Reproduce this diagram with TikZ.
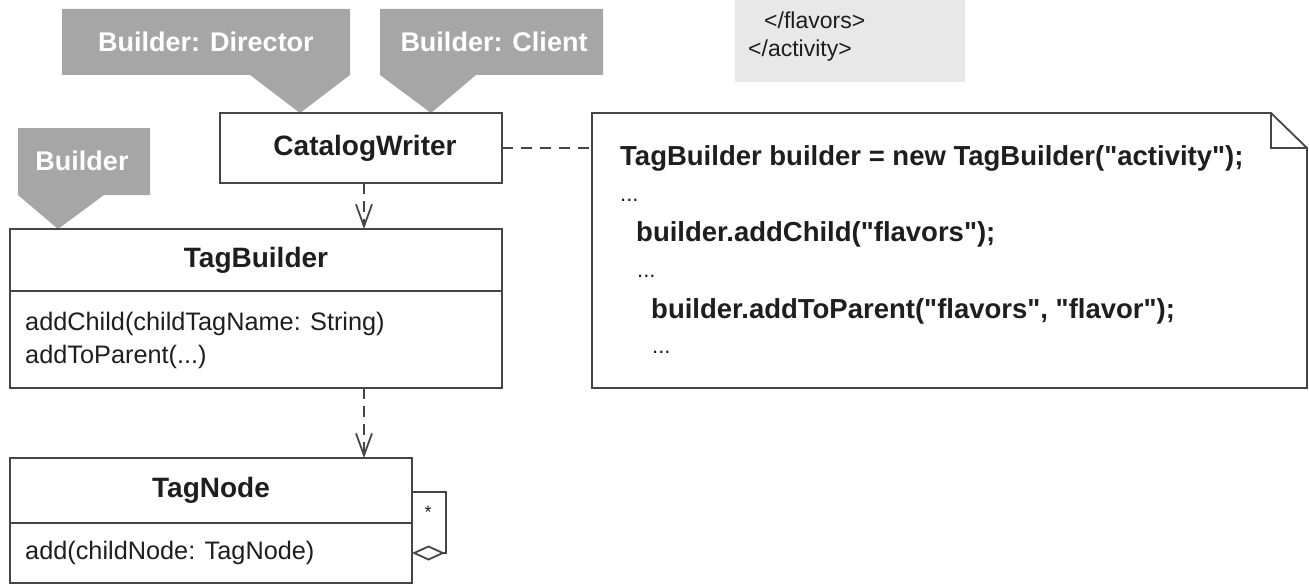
\documentclass[tikz,border=0pt]{standalone}
\usepackage{fontspec}
\setmainfont{Liberation Sans}[Ligatures=TeXOff]
\usetikzlibrary{arrows.meta}
\definecolor{bannerc}{HTML}{A6A6A6}
\definecolor{linec}{HTML}{454545}
\definecolor{xmlbg}{HTML}{E8E8E8}
\definecolor{txtc}{HTML}{1E1E1E}
\tikzset{
  bannertext/.style={text=white, font=\fontsize{27}{32}\selectfont\bfseries, inner sep=0pt},
  umlbox/.style={draw=linec, line width=1.8pt, fill=white, anchor=north west, inner sep=0pt, outer sep=0pt},
  titletext/.style={text=txtc, font=\fontsize{28}{33}\selectfont\bfseries, inner sep=0pt},
  methtext/.style={text=txtc, font=\fontsize{25.3}{30}\selectfont, inner sep=0pt, anchor=west},
  notetext/.style={text=txtc, font=\fontsize{27.5}{32}\selectfont\bfseries, inner sep=0pt, anchor=west},
  dotstext/.style={text=txtc, font=\fontsize{22}{26}\selectfont, inner sep=0pt, anchor=west},
  xmltext/.style={text=txtc, font=\fontsize{23}{27}\selectfont, inner sep=0pt, anchor=west},
  dep/.style={draw=linec, line width=1.8pt, dash pattern=on 11pt off 7pt, -{Straight Barb[length=22pt,width=16pt,line width=1.8pt]}},
  dashline/.style={draw=linec, line width=1.8pt, dash pattern=on 11pt off 8pt},
  solidline/.style={draw=linec, line width=1.8pt},
}
\begin{document}
\begin{tikzpicture}[x=1pt,y=-1pt]
\useasboundingbox (0,0) rectangle (1309,586);
% xml fragment
\fill[xmlbg] (735,0) rectangle (965,82);
\node[xmltext] (x1) at (764,20) {</flavors>};
\node[xmltext] (x2) at (748,51) {</activity>};
% banners
\fill[bannerc] (62,9) -- (350,9) -- (350,75) -- (300,113) -- (250,75) -- (62,75) -- cycle;
\node[bannertext] (bd) at (206,42) {Builder: Director};
\fill[bannerc] (380,9) -- (603,9) -- (603,75) -- (476,75) -- (431,113) -- (380,75) -- cycle;
\node[bannertext] (bc) at (494,42) {Builder: Client};
\fill[bannerc] (18,128) -- (150,128) -- (150,195) -- (104,195) -- (58,229) -- (18,195) -- cycle;
\node[bannertext] (bb) at (82,161) {Builder};
% CatalogWriter
\node[umlbox, minimum width=282pt, minimum height=70pt] (cw) at (220,113) {};
\node[titletext] (cwt) at ([xshift=4pt]cw.center) {CatalogWriter};
% TagBuilder
\node[umlbox, minimum width=492pt, minimum height=62pt] (tbh) at (10,229) {};
\node[umlbox, minimum width=492pt, minimum height=97pt] (tbb) at (10,291) {};
\node[titletext] (tbt) at (tbh.center) {TagBuilder};
\node[methtext] (m1) at (25,324) {addChild(childTagName: String)};
\node[methtext] (m2) at (25,357) {addToParent(...)};
% TagNode
\node[umlbox, minimum width=402pt, minimum height=65pt] (tnh) at (10,458) {};
\node[umlbox, minimum width=402pt, minimum height=60pt] (tnb) at (10,523) {};
\node[titletext] (tnt) at (tnh.center) {TagNode};
\node[methtext] (m3) at (25,553) {add(childNode: TagNode)};
% dependencies
\coordinate (ax) at (364,0);
\draw[dep] (cw.south -| ax) -- (tbh.north -| ax);
\draw[dep] (tbb.south -| ax) -- (tnh.north -| ax);
% self aggregation
\coordinate (lt) at (446,492);
\coordinate (lb) at (446,553);
\draw[solidline, {Diamond[open,length=33pt,width=15pt,line width=1.8pt]}-] (tnb.east |- lb) -- (lb) -- (lt) -- (tnh.east |- lt);
\node[text=txtc, font=\fontsize{18}{22}\selectfont, inner sep=0pt] (star) at (428,512) {*};
% note
\node[minimum width=715pt, minimum height=275pt, anchor=north west, inner sep=0pt, outer sep=0pt] (note) at (592,113) {};
\draw[solidline, fill=white] (note.north west) -- ([xshift=-36pt]note.north east) -- ([yshift=-35pt]note.north east) -- (note.south east) -- (note.south west) -- cycle;
\draw[solidline] ([xshift=-36pt]note.north east) -- ([xshift=-36pt,yshift=-35pt]note.north east) -- ([yshift=-35pt]note.north east);
\draw[dashline] (cw.east) -- (note.west |- cw.east);
\node[notetext] (n1) at (620,158) {TagBuilder builder = new TagBuilder("activity");};
\node[dotstext] (n2) at (620,200) {...};
\node[notetext] (n3) at (636,234) {builder.addChild("flavors");};
\node[dotstext] (n4) at (637,276) {...};
\node[notetext] (n5) at (651,311) {builder.addToParent("flavors", "flavor");};
\node[dotstext] (n6) at (652,352) {...};
\end{tikzpicture}
\end{document}
